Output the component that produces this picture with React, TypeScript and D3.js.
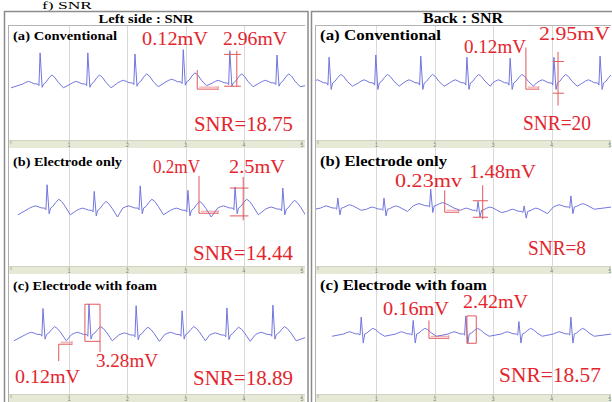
import React from "react";
import * as d3 from "d3";

const W = 612;
const H = 402;

// time axis (s)
const tickValues = [0, 1, 2, 3, 4, 5];
const tickLabels = ["'", "1", "2", "3", "4", "5"];

const sideTitles = ["Left side : SNR", "Back : SNR"];
const rowTitles = ["(a) Conventional", "(b) Electrode only", "(c) Electrode with foam"];

// R-peak times (s)
const leftConvBeats = [0.5, 1.32, 2.13, 2.96, 3.76, 4.57];
const leftElecBeats = [0.62, 1.43, 2.22, 3.04, 3.85, 4.67];
const leftFoamBeats = [0.55, 1.34, 2.15, 2.94, 3.71, 4.5];
const backConvBeats = [0.19, 0.99, 1.76, 2.55, 3.29, 4.04, 4.83];
const backElecBeats = [0.34, 1.13, 1.93, 2.74, 3.53, 4.33];
const backFoamBeats = [0.74, 1.63, 2.53, 3.44, 4.33];

// R amplitude of each beat (mV)
const leftConvR = [2.9, 2.9, 2.7, 3.0, 3.0, 2.6];
const leftElecR = [2.1, 1.7, 2.0, 1.8, 1.9, 1.9];
const leftFoamR = [2.3, 2.7, 2.6, 2.1, 2.4, 2.6];
const backConvR = [2.4, 2.6, 2.5, 2.4, 2.3, 2.4, 2.5];
const backElecR = [0.9, 1.0, 1.5, 0.8, 0.5, 1.0];
const backFoamR = [1.5, 1.2, 1.6, 1.1, 1.5];

// baseline level at each beat (mV)
const leftConvBase = [0.1, 0.1, 0.2, 0.3, 0.2, 0.2];
const leftElecBase = [0.1, -0.1, 0.1, -0.1, 0.1, 0];
const leftFoamBase = [0.15, 0.15, 0.1, 0.15, 0.1, 0.15];
const backConvBase = [0.2, 0.2, 0.2, 0.2, 0.2, 0.2, 0.2];
const backElecBase = [0.1, 0, 0.3, -0.1, -0.2, 0.2];
const backFoamBase = [0.2, 0.2, 0.2, 0.2, 0.2];

// P, Q, S, T, undershoot (mV)
const leftConvWave = [0.25, -0.15, -0.3, 0.85, -0.35];
const leftElecWave = [0.2, -0.15, -0.5, 0.8, -0.6];
const leftFoamWave = [0.2, -0.15, -0.4, 0.7, -0.55];
const backConvWave = [0.3, -0.2, -0.6, 0.8, -0.3];
const backElecWave = [0.2, -0.1, -0.6, 0.3, -0.2];
const backFoamWave = [0.2, -0.1, -0.8, 0.5, -0.2];

// noise window: t0, t1, level, stem end (s, mV)
const leftConvNoise = [3.2, 3.56, -0.37, 1.4];
const leftElecNoise = [3.23, 3.56, -0.36, 3.0];
const leftFoamNoise = [0.82, 1.05, -0.7, -2.2];
const backConvNoise = [3.56, 3.78, -0.37, 3.5];
const backElecNoise = [2.17, 2.41, -0.27, 1.7];
const backFoamNoise = [1.9, 2.24, -0.18, 1.4];

// peak amplitude bracket: cap t0, cap t1, stem t, low (mV), amplitude (mV), stem top, stem bottom
const leftConvAmp = [3.66, 3.95, 3.88, -0.1, 2.96, 3.2, -0.1];
const leftElecAmp = [3.76, 4.08, 3.99, -0.6, 2.5, 2.9, -1.0];
const leftFoamAmp = [1.27, 1.53, 1.53, -0.45, 3.28, 2.83, -1.4];
const backConvAmp = [4.02, 4.21, 4.11, -0.75, 2.95, 3.1, -1.9];
const backElecAmp = [2.65, 2.91, 2.82, -0.72, 1.48, 2.15, -0.9];
const backFoamAmp = [2.55, 2.71, 2.71, -0.62, 2.42, 1.8, -0.62];

const leftConvLabels = ["0.12mV", "2.96mV", "SNR=18.75"];
const leftElecLabels = ["0.2mV", "2.5mV", "SNR=14.44"];
const leftFoamLabels = ["0.12mV", "3.28mV", "SNR=18.89"];
const backConvLabels = ["0.12mV", "2.95mV", "SNR=20"];
const backElecLabels = ["0.23mv", "1.48mV", "SNR=8"];
const backFoamLabels = ["0.16mV", "2.42mV", "SNR=18.57"];

// shape of one beat: time from R (s), component, weight
const beatShape: [number, string, number][] = [
  [-0.3, "p", 0],
  [-0.25, "p", 0.6],
  [-0.2, "p", 1],
  [-0.15, "p", 0.6],
  [-0.1, "p", 0.1],
  [-0.04, "q", 0],
  [-0.02, "q", 1],
  [0, "r", 1],
  [0.035, "s", 1],
  [0.06, "s", 0],
  [0.1, "t", 0.2],
  [0.15, "t", 0.65],
  [0.2, "t", 1],
  [0.25, "t", 0.75],
  [0.31, "t", 0.2],
  [0.4, "u", 1],
];

const panels = [
  { side: 0, row: 0, beats: leftConvBeats, r: leftConvR, base: leftConvBase, wave: leftConvWave, noise: leftConvNoise, amp: leftConvAmp, labels: leftConvLabels },
  { side: 0, row: 1, beats: leftElecBeats, r: leftElecR, base: leftElecBase, wave: leftElecWave, noise: leftElecNoise, amp: leftElecAmp, labels: leftElecLabels },
  { side: 0, row: 2, beats: leftFoamBeats, r: leftFoamR, base: leftFoamBase, wave: leftFoamWave, noise: leftFoamNoise, amp: leftFoamAmp, labels: leftFoamLabels },
  { side: 1, row: 0, beats: backConvBeats, r: backConvR, base: backConvBase, wave: backConvWave, noise: backConvNoise, amp: backConvAmp, labels: backConvLabels },
  { side: 1, row: 1, beats: backElecBeats, r: backElecR, base: backElecBase, wave: backElecWave, noise: backElecNoise, amp: backElecAmp, labels: backElecLabels },
  { side: 1, row: 2, beats: backFoamBeats, r: backFoamR, base: backFoamBase, wave: backFoamWave, noise: backFoamNoise, amp: backFoamAmp, labels: backFoamLabels },
];

// layout
const sides = [
  { x0: 9, x1: 305, frame0: 4.5, frame1: 308, titleX: 146, titleW: 95, titleSize: 13, rowSize: 13, rowW: [104, 109, 144] },
  { x0: 316, x1: 611, frame0: 311.5, frame1: 614, titleX: 463, titleW: 80, titleSize: 15, rowSize: 15, rowW: [121, 127, 167] },
];
const xScales = [
  d3.scaleLinear().domain([0, 5]).range([11, 302]),
  d3.scaleLinear().domain([0, 5]).range([318, 610]),
];
const rows = [
  { top: 26, strip: 140, bottom: 148, label: 40 },
  { top: 148, strip: 266, bottom: 274, label: 166 },
  { top: 274, strip: 394, bottom: 402, label: 290 },
];
// [x, baseline, width] for noise label, amplitude label, SNR label
const labelBoxes = [
  [[142, 45, 66], [223, 45, 64], [194, 131, 99]],
  [[153, 173, 47], [229, 173, 56], [193, 260, 100]],
  [[15, 383, 65], [96, 367, 62], [193, 385, 100]],
  [[464, 53, 62], [539, 40, 71], [523, 130, 68]],
  [[395, 187, 67], [469, 178, 67], [528, 255, 58]],
  [[383, 315, 66], [463, 308, 65], [499, 382, 102]],
];

const RED = "#e3262e";
const RED_LINE = "#e0585a";
const TRACE = "#7176de";

function tracePoints(p: (typeof panels)[number]) {
  const [P, Q, S, T, U] = p.wave;
  const amp: Record<string, number> = { p: P, q: Q, s: S, t: T, u: U };
  const pts: [number, number][] = [];
  pts.push([p.beats[0] - 0.5, p.base[0] + U]);
  p.beats.forEach((b, i) => {
    beatShape.forEach(([dt, k, w]) => {
      const a = k === "r" ? p.r[i] : amp[k];
      pts.push([b + dt, p.base[i] + w * a]);
    });
  });
  pts.push([p.beats[p.beats.length - 1] + 0.7, p.base[p.base.length - 1]]);
  return pts;
}

export default function App() {
  return (
    <svg width={W} height={H} style={{ display: "block", position: "absolute", left: 0, top: 0 }}>
      <rect width={W} height={H} fill="#fff" />
      <defs>
        {panels.map((p, i) => {
          const s = sides[p.side];
          const r = rows[p.row];
          return (
            <clipPath id={`clip${i}`} key={i}>
              <rect x={s.x0} y={r.top} width={s.x1 - s.x0} height={r.strip - r.top} />
            </clipPath>
          );
        })}
      </defs>

      {/* heading left over from the figure above */}
      <text x={42} y={8.5} fontFamily="Liberation Serif" fontSize={11} textLength={50} lengthAdjust="spacingAndGlyphs">
        f) SNR
      </text>

      {sides.map((s, si) => (
        <g key={si}>
          <rect x={s.frame0} y={11.5} width={s.frame1 - s.frame0} height={H} fill="#fff" stroke="#8c8c8c" strokeWidth={1.5} />
          <line x1={s.x0 - 0.5} x2={s.x0 - 0.5} y1={25} y2={H} stroke="#b0b0b0" />
          <line x1={s.x0} x2={s.x1} y1={25.5} y2={25.5} stroke="#b4b4b4" />
          <text
            x={s.titleX}
            y={23}
            textAnchor="middle"
            fontFamily="Liberation Serif"
            fontWeight="bold"
            fontSize={s.titleSize}
            textLength={s.titleW}
            lengthAdjust="spacingAndGlyphs"
          >
            {sideTitles[si]}
          </text>
        </g>
      ))}

      {panels.map((p, i) => {
        const s = sides[p.side];
        const r = rows[p.row];
        const x = xScales[p.side];
        const y = d3.scaleLinear().domain([-5.1, 5.5]).range([r.strip, r.top]);
        const line = d3
          .line<[number, number]>()
          .x((d) => x(d[0]))
          .y((d) => y(d[1]));
        const [n0, n1, nLevel, nStem] = p.noise;
        const [c0, c1, stemT, lo, ampV, stemTop, stemBottom] = p.amp;
        const hi = lo + ampV;
        const boxes = labelBoxes[i];
        const isBox = p.amp[2] === p.amp[1];
        return (
          <g key={i}>
            {/* grid */}
            {tickValues.slice(1, -1).map((t) => (
              <line key={t} x1={Math.round(x(t)) + 0.5} x2={Math.round(x(t)) + 0.5} y1={r.top} y2={r.strip} stroke="#d9d9d9" />
            ))}
            {/* time strip */}
            <rect x={s.x0} y={r.strip} width={s.x1 - s.x0} height={r.bottom - r.strip} fill="#e6e9d6" />
            <line x1={s.x0} x2={s.x1} y1={r.strip + 0.5} y2={r.strip + 0.5} stroke="#cfd3bf" />
            {tickValues.map((t, k) => (
              <g key={t}>
                <line x1={x(t)} x2={x(t)} y1={r.strip + 1} y2={r.strip + 3} stroke="#888" strokeWidth={0.6} />
                <text x={x(t)} y={r.strip + 7} fontSize={5} fill="#777" textAnchor="middle" fontFamily="Liberation Sans">
                  {tickLabels[k]}
                </text>
              </g>
            ))}

            <text
              x={s.x0 + 4}
              y={r.label}
              fontFamily="Liberation Serif"
              fontWeight="bold"
              fontSize={s.rowSize}
              textLength={s.rowW[p.row]}
              lengthAdjust="spacingAndGlyphs"
            >
              {rowTitles[p.row]}
            </text>

            {/* ECG trace */}
            <path d={line(tracePoints(p)) || ""} fill="none" stroke={TRACE} strokeWidth={1} clipPath={`url(#clip${i})`} />

            {/* noise marker */}
            <g stroke={RED_LINE} strokeWidth={1} fill="none">
              <line x1={x(n0)} x2={x(n0)} y1={y(nStem)} y2={y(nLevel)} />
              <line x1={x(n0)} x2={x(n1)} y1={y(nLevel)} y2={y(nLevel)} />
              <line x1={x(n0) + 2} x2={x(n1)} y1={y(nLevel) - 2} y2={y(nLevel) - 2} strokeWidth={0.6} />
              <line x1={x(n1)} x2={x(n1)} y1={y(nLevel) - 3} y2={y(nLevel) + 1} strokeWidth={0.6} />
            </g>

            {/* amplitude bracket */}
            <g stroke={RED_LINE} strokeWidth={1} fill="none">
              <line x1={x(c0)} x2={x(c1)} y1={y(hi)} y2={y(hi)} />
              <line x1={x(c0)} x2={x(c1)} y1={y(lo)} y2={y(lo)} />
              <line x1={x(stemT)} x2={x(stemT)} y1={y(Math.max(stemTop, hi))} y2={y(Math.min(stemBottom, lo))} />
              {isBox && <line x1={x(c0)} x2={x(c0)} y1={y(hi)} y2={y(lo)} />}
            </g>

            {/* labels */}
            {p.labels.map((txt, k) => (
              <text
                key={k}
                x={boxes[k][0]}
                y={boxes[k][1]}
                fill={RED}
                fontFamily="Liberation Serif"
                fontSize={k === 2 ? 21 : 19}
                textLength={boxes[k][2]}
                lengthAdjust="spacingAndGlyphs"
              >
                {txt}
              </text>
            ))}
          </g>
        );
      })}
    </svg>
  );
}
